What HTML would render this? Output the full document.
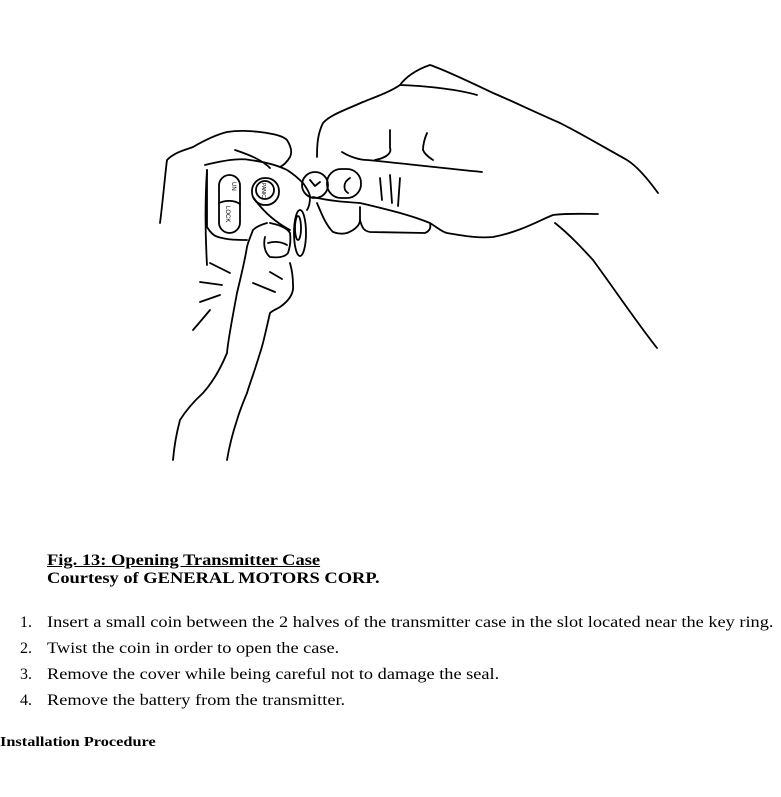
<!DOCTYPE html>
<html><head><style>
body{margin:0;background:#fff;width:781px;height:797px;position:relative;overflow:hidden;font-family:"Liberation Serif",serif;color:#000}
.t{position:absolute;white-space:nowrap;transform-origin:0 0}
.n{position:absolute;left:20px;font-size:16px;line-height:20px}
svg{position:absolute;left:0;top:0}
</style></head><body>
<svg width="781" height="540" viewBox="0 0 781 540" fill="none" stroke="#000" stroke-width="1.8" stroke-linecap="round" stroke-linejoin="round">
<path d="M658,193 C645,175 635,165 627,160 C600,145 580,133 560,123 C530,110 510,100 493,93 C470,82 445,70 430,65 C415,70 405,78 400,85 C390,92 375,97 363,102 C345,110 330,115 323,123 C317,135 317,148 317,157"/>
<path d="M400,85 C430,86 460,90 477,95"/>
<path d="M342,152 C350,157 360,160 367,160 C400,163 440,168 482,172"/>
<path d="M390,130 L390,148 C392,153 386,158 375,160"/>
<path d="M427,133 C424,140 423,146 423,150 C425,155 430,158 433,160"/>
<path d="M313,197 C330,201 345,202 360,203 C390,210 410,215 430,223 C438,228 442,232 447,233 C470,237 480,238 493,237 C520,232 540,220 553,215 C570,213 585,214 598,214"/>
<path d="M555,223 C570,235 582,248 593,260 C615,290 635,320 657,348"/>
<path d="M317,203 C322,215 326,225 333,232 C338,234 343,234 347,233 C355,230 360,225 360,220 L360,207"/>
<path d="M360,220 C362,228 364,231 370,232 L425,233 C430,231 431,227 430,223"/>
<rect x="327" y="169" width="34" height="29" rx="14"/>
<path d="M350,178 C343,182 343,190 348,193"/>
<path d="M380,178 L382,200 M390,175 L392,203 M400,178 L398,206"/>
<circle cx="315" cy="185" r="13"/>
<path d="M310,180 L315,186 L320,182"/>
<path d="M160,223 C163,200 165,175 167,160 C175,152 185,150 193,147 C205,140 215,135 227,132 C240,130 250,131 260,132 C275,134 283,136 287,140 C292,148 292,153 290,157 C287,162 284,165 280,167"/>
<path d="M235,150 C250,155 262,160 270,168"/>
<path d="M205,165 C225,160 240,158 250,160 C265,162 277,165 287,170 C295,175 300,180 303,183 C308,190 310,194 310,197 C310,203 309,207 307,210"/>
<path d="M207,170 L207,227 C210,232 214,236 218,237 C228,240 238,240 247,240"/>
<path d="M207,170 C205,200 205,230 207,265"/>
<rect x="219" y="175" width="21" height="58" rx="10.5"/>
<path d="M219,203 C226,200 234,200 240,204"/>
<text x="0" y="0" font-size="6" fill="#000" stroke="none" font-family="Liberation Sans,sans-serif" transform="translate(232,182) rotate(90)">UN</text>
<text x="0" y="0" font-size="6" fill="#000" stroke="none" font-family="Liberation Sans,sans-serif" transform="translate(226,206) rotate(90)">LOCK</text>
<rect x="252" y="178" width="27" height="27" rx="13"/>
<circle cx="265" cy="190" r="9"/>
<text x="0" y="0" font-size="5" fill="#000" stroke="none" font-family="Liberation Sans,sans-serif" transform="translate(262,183) rotate(90)">PANIC</text>
<path d="M253,197 C262,210 275,222 290,230"/>
<ellipse cx="300" cy="233" rx="6" ry="23"/>
<ellipse cx="298" cy="228" rx="3" ry="12"/>
<path d="M267,223 C260,225 255,228 253,230 C250,238 248,242 247,247 C244,265 240,280 237,293 C232,320 228,340 227,353 C220,370 212,383 203,393 C192,403 185,412 180,420 C176,435 174,448 173,460"/>
<path d="M270,223 C280,225 287,228 290,233 C291,240 290,247 288,253 C285,257 278,258 270,257 C265,253 263,245 265,237"/>
<path d="M268,243 C275,241 282,242 287,245"/>
<path d="M290,263 C292,270 293,277 293,285 C294,293 290,300 280,307 C275,310 272,311 270,313 C266,330 263,345 260,353 C255,370 250,383 247,393 C242,405 239,413 237,420 C232,435 229,448 227,460"/>
<path d="M210,263 L230,273 M200,282 L222,285 M200,302 L220,295 M253,283 L275,292 M270,272 L282,279 M193,330 C200,322 205,316 210,310"/>
</svg>
<div class="t" style="left:47px;top:552px;font-size:15.5px;font-weight:bold;line-height:18px;text-decoration:underline;transform:scaleX(1.19)">Fig. 13: Opening Transmitter Case</div>
<div class="t" style="left:47px;top:570px;font-size:15.5px;font-weight:bold;line-height:18px;transform:scaleX(1.19)">Courtesy of GENERAL MOTORS CORP.</div>
<div class="n" style="top:613px">1.</div>
<div class="n" style="top:639px">2.</div>
<div class="n" style="top:665px">3.</div>
<div class="n" style="top:691px">4.</div>
<div class="t" style="left:47px;top:613px;font-size:16px;line-height:20px;transform:scaleX(1.145)">Insert a small coin between the 2 halves of the transmitter case in the slot located near the key ring.</div>
<div class="t" style="left:47px;top:639px;font-size:16px;line-height:20px;transform:scaleX(1.145)">Twist the coin in order to open the case.</div>
<div class="t" style="left:47px;top:665px;font-size:16px;line-height:20px;transform:scaleX(1.145)">Remove the cover while being careful not to damage the seal.</div>
<div class="t" style="left:47px;top:691px;font-size:16px;line-height:20px;transform:scaleX(1.145)">Remove the battery from the transmitter.</div>
<div class="t" style="left:0px;top:734px;font-size:14px;font-weight:bold;line-height:18px;transform:scaleX(1.165)">Installation Procedure</div>
</body></html>
